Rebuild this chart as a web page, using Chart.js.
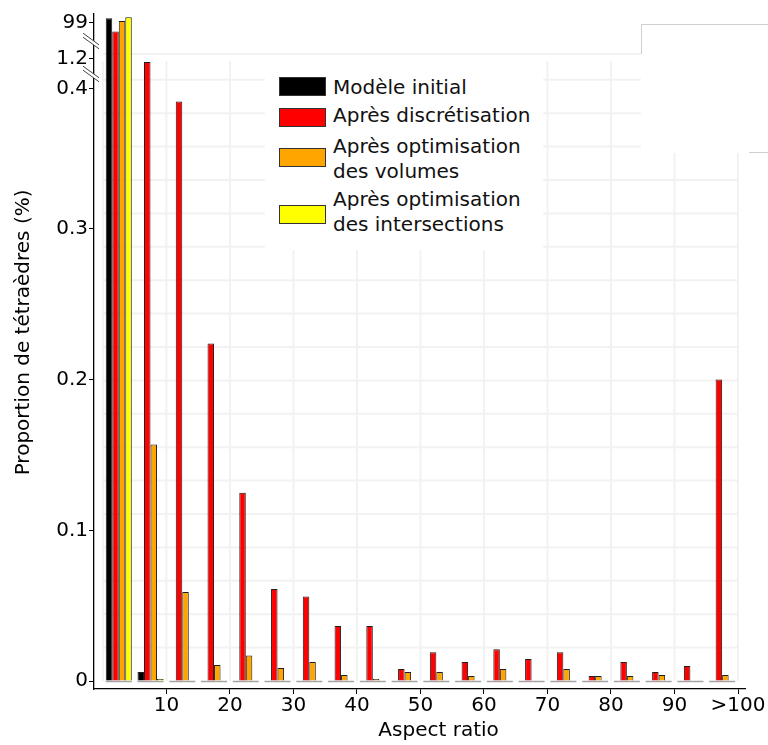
<!DOCTYPE html>
<html>
<head>
<meta charset="utf-8">
<script src="https://cdn.jsdelivr.net/npm/chart.js@4"></script>
<style>
  html, body { margin: 0; padding: 0; background: #fff; }
  #wrap { position: relative; width: 768px; height: 745px; font-family: "DejaVu Sans", sans-serif; }
  #legend { position: absolute; left: 265px; top: 57px; width: 278px; height: 193px; background: #fff; }
  .sw { position: absolute; left: 14px; width: 45px; height: 17px; border: 1px solid #333; }
  .lt { position: absolute; left: 68px; font-size: 20px; line-height: 25px; color: #111; white-space: pre-line; }
  #corner { position: absolute; left: 641px; top: 24px; width: 127px; height: 128px; background: #fff; border-top: 1px solid #cfcfcf; }
  #corner .l { position: absolute; left: 0; top: 0; width: 1px; height: 29px; background: #cfcfcf; }
  #corner .b { position: absolute; left: 108px; bottom: 0; width: 19px; height: 1px; background: #cfcfcf; }
</style>
</head>
<body>
<div id="wrap">
  <canvas id="myChart" width="768" height="745"></canvas>
  <div id="corner"><div class="l"></div><div class="b"></div></div>
  <div id="legend"></div>
</div>
<script>
// bins of aspect ratio (centre of each 5-wide bin, last one = >100)
const binCenters = [2.5, 7.5, 12.5, 17.5, 22.5, 27.5, 32.5, 37.5, 42.5, 47.5,
                    52.5, 57.5, 62.5, 67.5, 72.5, 77.5, 82.5, 87.5, 92.5, 97.5];

// proportions in %
const initialVals   = [99.8, 0.006, 0, 0, 0, 0, 0, 0, 0, 0,
                       0, 0, 0, 0, 0, 0, 0, 0, 0, 0];
const discretVals   = [97.6, 1.12, 0.391, 0.224, 0.125, 0.061, 0.056, 0.0365, 0.0365, 0.008,
                       0.019, 0.0126, 0.021, 0.0146, 0.019, 0.0033, 0.0126, 0.006, 0.01, 0.200];
const volumesVals   = [99.35, 0.157, 0.059, 0.0106, 0.017, 0.0086, 0.0126, 0.004, 0.0013, 0.006,
                       0.006, 0.0033, 0.008, 0, 0.008, 0.0033, 0.0033, 0.004, 0, 0.004];
const intersectVals = [99.95, 0.0013, 0, 0, 0, 0, 0, 0, 0, 0,
                       0, 0, 0, 0, 0, 0, 0, 0, 0, 0];

const seriesNames  = ['Modèle initial', 'Après discrétisation',
                      'Après optimisation\ndes volumes', 'Après optimisation\ndes intersections'];
const seriesColors = ['#000000', '#ff0000', '#ffa500', '#ffff00'];

const xTickValues = [10, 20, 30, 40, 50, 60, 70, 80, 90, 100];
const xTickLabels = ['10', '20', '30', '40', '50', '60', '70', '80', '90', '>100'];
const yTickValues = [0, 0.1, 0.2, 0.3, 0.4, 1.2, 99];
const yTickLabels = ['0', '0.1', '0.2', '0.3', '0.4', '1.2', '99'];

// broken y axis: map a value onto the drawn (piecewise) axis
function toAxis(v) {
  if (v <= 0.3) return v * 1507;
  if (v <= 0.4) return 452.1 + (v - 0.3) * 1400;
  if (v <= 1.2) return 592 + (v - 0.4) * 37.5;
  return 658 + (v - 99) * 6;
}

const allVals = [initialVals, discretVals, volumesVals, intersectVals];

const datasets = allVals.map((vals, i) => ({
  label: seriesNames[i],
  data: binCenters.map((c, j) => ({ x: c, y: toAxis(vals[j]) })),
  backgroundColor: seriesColors[i],
  borderColor: '#1e1e1e',
  borderWidth: 1,
  categoryPercentage: 0.82,
  barPercentage: 1.0
}));

// legend (html, so the two-line labels wrap like the original)
const swTops = [20, 51, 91, 148];
const txTops = [18, 46, 77, 130];
const legendEl = document.getElementById('legend');
seriesNames.forEach((name, i) => {
  const sw = document.createElement('div');
  sw.className = 'sw';
  sw.style.top = swTops[i] + 'px';
  sw.style.background = seriesColors[i];
  legendEl.appendChild(sw);
  const t = document.createElement('div');
  t.className = 'lt';
  t.style.top = txTops[i] + 'px';
  t.textContent = name;
  legendEl.appendChild(t);
});

function line(ctx, x1, y1, x2, y2) {
  ctx.beginPath(); ctx.moveTo(x1, y1); ctx.lineTo(x2, y2); ctx.stroke();
}

const backdrop = {
  id: 'backdrop',
  beforeDatasetsDraw(chart) {
    const { ctx, scales: { x, y } } = chart;
    ctx.save();
    ctx.strokeStyle = '#f2f2f2';
    ctx.lineWidth = 2;
    const y0 = y.getPixelForValue(0);
    for (let v = 0; v <= 100; v += 10) {
      const px = x.getPixelForValue(v);
      line(ctx, px, y0, px, y.getPixelForValue(620));
    }
    for (let k = 1; k <= 18; k++) {
      const py = y.getPixelForValue(33.4 * k);
      line(ctx, x.getPixelForValue(0), py, x.getPixelForValue(100), py);
    }
    line(ctx, x.getPixelForValue(0), y.getPixelForValue(627), x.getPixelForValue(100), y.getPixelForValue(627));
    // zero-height bars leave a grey edge under every group
    ctx.strokeStyle = '#a4a4a4';
    ctx.lineWidth = 1.5;
    binCenters.forEach(c => {
      line(ctx, x.getPixelForValue(c - 2.05), y0 + 0.5, x.getPixelForValue(c + 2.05), y0 + 0.5);
    });
    ctx.restore();
  },
  afterDraw(chart) {
    const { ctx, scales: { y } } = chart;
    const ax = chart.chartArea.left;
    const marks = [(toAxis(1.2) + toAxis(99)) / 2, (toAxis(0.4) + toAxis(1.2)) / 2];
    ctx.save();
    marks.forEach(d => {
      const cy = y.getPixelForValue(d);
      const cx = ax - 3;
      ctx.fillStyle = '#fff';
      ctx.beginPath();
      ctx.moveTo(cx - 8, cy - 7.8); ctx.lineTo(cx + 8, cy + 3.8);
      ctx.lineTo(cx + 8, cy + 7.8); ctx.lineTo(cx - 8, cy - 3.8);
      ctx.closePath(); ctx.fill();
      ctx.strokeStyle = '#444';
      ctx.lineWidth = 1;
      line(ctx, cx - 8, cy - 7.8, cx + 8, cy + 3.8);
      line(ctx, cx - 8, cy - 3.8, cx + 8, cy + 7.8);
    });
    ctx.restore();
  }
};

const font20 = { family: '"DejaVu Sans", sans-serif', size: 20 };

const config = {
  type: 'bar',
  data: { datasets: datasets },
  options: {
    responsive: false,
    animation: false,
    layout: { padding: { top: 14, right: 23, left: 0, bottom: 0 } },
    plugins: { legend: { display: false }, tooltip: { enabled: false } },
    scales: {
      x: {
        type: 'linear',
        offset: false,
        min: -1.4,
        max: 101.1,
        afterBuildTicks: s => { s.ticks = xTickValues.map(v => ({ value: v })); },
        afterFit: s => { s.height = 56; },
        grid: { offset: false, drawOnChartArea: false, tickLength: 5, tickColor: '#000', tickWidth: 1 },
        border: { color: '#000', width: 1.3 },
        ticks: { autoSkip: false, maxRotation: 0, padding: 0, color: '#000', font: font20,
                 callback: (v, i) => xTickLabels[i] },
        title: { display: true, text: '      Aspect ratio', color: '#000', font: font20,
                 padding: { top: 2, bottom: 2 } }
      },
      y: {
        type: 'linear',
        min: -8,
        max: 667,
        afterBuildTicks: s => { s.ticks = yTickValues.map(v => ({ value: toAxis(v) })); },
        afterFit: s => { s.width = 94; },
        grid: { drawOnChartArea: false, tickLength: 5, tickColor: '#000', tickWidth: 1 },
        border: { color: '#000', width: 1.3 },
        ticks: { autoSkip: false, padding: 1, color: '#000', font: font20,
                 callback: (v, i) => yTickLabels[i] },
        title: { display: true, text: '      Proportion de tétraèdres (%)', color: '#000', font: font20,
                 padding: { top: 12, bottom: 12 } }
      }
    }
  },
  plugins: [backdrop]
};

const ctx = document.getElementById('myChart').getContext('2d');
const myChart = new Chart(ctx, config);
</script>
</body>
</html>
